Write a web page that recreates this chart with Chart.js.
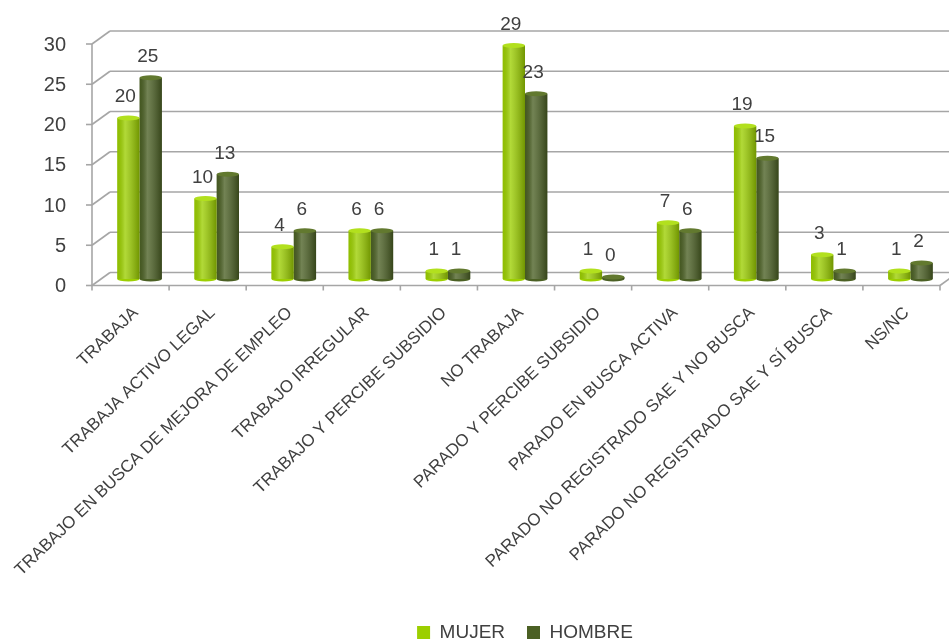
<!DOCTYPE html>
<html>
<head>
<meta charset="utf-8">
<script src="https://cdn.jsdelivr.net/npm/chart.js@4.4.1/dist/chart.umd.min.js"></script>
<style>
  html, body { margin: 0; padding: 0; background: #fff; }
  #wrap { width: 949px; height: 641px; }
</style>
</head>
<body>
<div id="wrap"><canvas id="chart"></canvas></div>
<script>
// data
const categorias = ['TRABAJA', 'TRABAJA ACTIVO LEGAL', 'TRABAJO EN BUSCA DE MEJORA DE EMPLEO',
  'TRABAJO IRREGULAR', 'TRABAJO Y PERCIBE SUBSIDIO', 'NO TRABAJA', 'PARADO Y PERCIBE SUBSIDIO',
  'PARADO EN BUSCA ACTIVA', 'PARADO NO REGISTRADO SAE Y NO BUSCA',
  'PARADO NO REGISTRADO SAE Y SÍ BUSCA', 'NS/NC'];
const mujer  = [20, 10, 4, 6, 1, 29, 1, 7, 19, 3, 1];
const hombre = [25, 13, 6, 6, 1, 23, 0, 6, 15, 1, 2];
const yMax = 30, yStep = 5;

// fake 3d depth: front plane is (-DX,+DY) from the bars, back wall (+DX,-DY)
const DX = 9, DY = 6.5;
const GRID = '#a6a6a6';
const TEXT = '#404040';

function line(ctx, x1, y1, x2, y2) {
  ctx.beginPath(); ctx.moveTo(x1, y1); ctx.lineTo(x2, y2); ctx.stroke();
}

const grid3d = {
  id: 'grid3d',
  beforeDatasetsDraw(chart) {
    const { ctx, chartArea: a, scales: { x, y } } = chart;
    ctx.save();
    ctx.strokeStyle = GRID;
    ctx.lineWidth = 1.6;
    y.ticks.forEach(t => {
      const py = y.getPixelForValue(t.value);
      line(ctx, a.left + DX, py - DY, a.right + DX, py - DY);
      line(ctx, a.left - DX, py + DY, a.left + DX, py - DY);
      line(ctx, a.left - DX - 6, py + DY, a.left - DX, py + DY);
    });
    const y0 = y.getPixelForValue(0);
    line(ctx, a.left - DX, y.getPixelForValue(yMax) + DY, a.left - DX, y0 + DY);
    line(ctx, a.left - DX, y0 + DY, a.right - DX, y0 + DY);
    line(ctx, a.right - DX, y0 + DY, a.right + DX, y0 - DY);
    const step = x.getPixelForValue(1) - x.getPixelForValue(0);
    for (let i = 0; i <= categorias.length; i++) {
      const px = x.getPixelForValue(0) - step / 2 + i * step - DX;
      line(ctx, px, y0 + DY, px, y0 + DY + 5);
    }
    ctx.restore();
  }
};

// round shading + caps on the bars, and the value labels
const cylinders = {
  id: 'cylinders',
  afterDatasetsDraw(chart) {
    const ctx = chart.ctx;
    const caps = ['#b2e01e', '#62792f'];
    chart.data.datasets.forEach((ds, di) => {
      const meta = chart.getDatasetMeta(di);
      meta.data.forEach((el, i) => {
        const { x, y, base, width } = el;
        const l = x - width / 2, r = x + width / 2;
        const g = ctx.createLinearGradient(l, 0, r, 0);
        g.addColorStop(0, 'rgba(0,0,0,0.08)');
        g.addColorStop(0.35, 'rgba(255,255,255,0.22)');
        g.addColorStop(1, 'rgba(0,0,0,0.28)');
        ctx.save();
        ctx.fillStyle = g;
        ctx.fillRect(l, y, width, base - y);
        ctx.beginPath();
        ctx.ellipse(x, base, width / 2, 2.5, 0, 0, Math.PI);
        ctx.fillStyle = ds.backgroundColor;
        ctx.fill();
        ctx.beginPath();
        ctx.ellipse(x, y, width / 2, 2.5, 0, 0, Math.PI * 2);
        ctx.fillStyle = caps[di];
        ctx.fill();
        ctx.fillStyle = TEXT;
        ctx.font = '19px "Liberation Sans", Arial, sans-serif';
        ctx.textAlign = 'center';
        ctx.textBaseline = 'middle';
        ctx.fillText(ds.data[i], x - 3, y - 21);
        ctx.restore();
      });
    });
  }
};

new Chart(document.getElementById('chart'), {
  type: 'bar',
  data: {
    labels: categorias,
    datasets: [
      { label: 'MUJER', data: mujer, backgroundColor: '#9ccf00', borderWidth: 0, minBarLength: 2 },
      { label: 'HOMBRE', data: hombre, backgroundColor: '#4b6024', borderWidth: 0, minBarLength: 2 }
    ]
  },
  options: {
    responsive: true,
    maintainAspectRatio: false,
    animation: false,
    layout: { padding: { top: 37.5, right: 0, left: 0, bottom: -11 } },
    datasets: { bar: { categoryPercentage: 0.58, barPercentage: 1 } },
    scales: {
      x: {
        grid: { display: false },
        border: { display: false },
        ticks: {
          autoSkip: false, minRotation: 44, maxRotation: 44, labelOffset: -4, padding: 16,
          color: TEXT, font: { family: '"Liberation Sans", Arial, sans-serif', size: 17 }
        },
        afterFit(s) { s.height = 322; }
      },
      y: {
        min: 0, max: yMax,
        grid: { display: false },
        border: { display: false },
        ticks: {
          stepSize: yStep, labelOffset: DY + 1, padding: 27,
          color: TEXT, font: { family: '"Liberation Sans", Arial, sans-serif', size: 20 }
        },
        afterFit(s) { s.width = 101; s.paddingTop = 0; s.paddingBottom = 0; }
      }
    },
    plugins: {
      legend: {
        position: 'bottom',
        fullSize: false,
        labels: {
          boxWidth: 13, boxHeight: 13, padding: 22, color: TEXT,
          font: { family: '"Liberation Sans", Arial, sans-serif', size: 19 }
        }
      },
      tooltip: { enabled: false }
    }
  },
  plugins: [grid3d, cylinders]
});
</script>
</body>
</html>
